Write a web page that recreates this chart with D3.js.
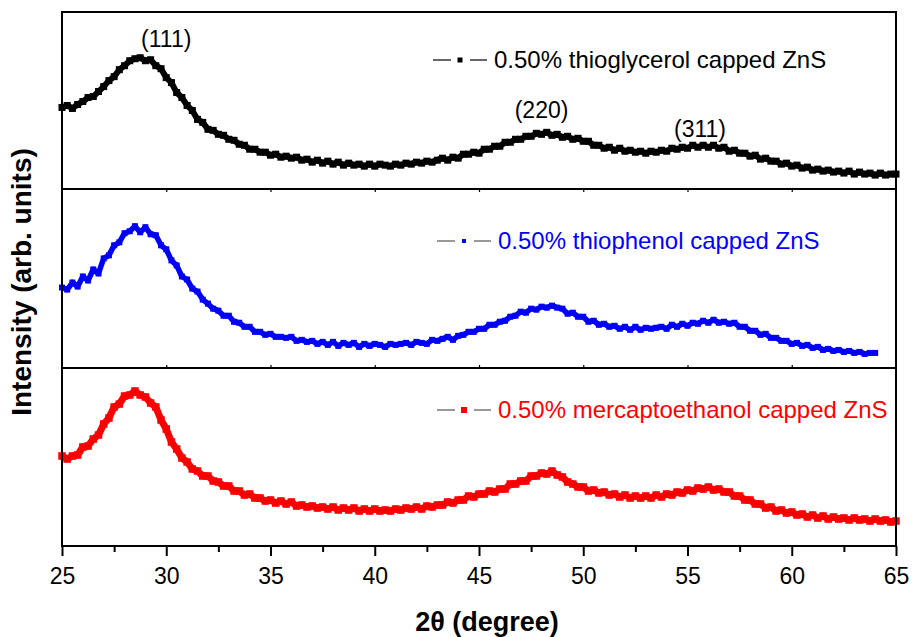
<!DOCTYPE html>
<html>
<head>
<meta charset="utf-8">
<script src="https://cdn.jsdelivr.net/npm/d3@7"></script>
<style>
  body { margin: 0; background: #fff; }
  text { font-family: Arial, "Liberation Sans", sans-serif; fill: #000; }
</style>
</head>
<body>
<div id="chart"></div>
<script>
// XRD scans, 2theta from 25 deg in 0.25 deg steps, arb. units
var scanStart = 25, scanStep = 0.25;

var thioglycerol = [
  82, 84, 81, 85,  88, 92, 93, 98,  103, 109, 113, 120,  124, 129, 131, 132,
  129, 130, 124, 121,  112, 107, 97, 92,  84, 79, 70, 67,  60, 59, 55, 54,
  50, 49, 45, 44,  40, 40, 37, 37,  34, 35, 32, 33,  31, 32, 29, 30,
  27, 29, 26, 28,  25, 27, 24, 26,  24, 25, 23, 25,  23, 25, 24, 23,
  25, 24, 26, 25,  27, 26, 28, 27,  29, 31, 29, 32,  31, 35, 35, 37,
  36, 40, 40, 43,  43, 47, 47, 50,  50, 53, 53, 56,  55, 57, 54, 55,
  52, 53, 50, 51,  48, 48, 44, 44,  41, 42, 39, 41,  38, 39, 37, 38,
  36, 38, 37, 39,  38, 41, 40, 42,  41, 44, 42, 44,  42, 44, 41, 42,
  38, 39, 36, 36,  33, 34, 30, 31,  28, 28, 25, 26,  23, 24, 21, 22,
  19, 20, 18, 19,  17, 18, 16, 18,  15, 17, 15, 16,  14, 16, 14, 15,  15
];

var thiophenol = [
  80, 78, 85, 81,  91, 87, 98, 94,  109, 112, 122, 125,  134, 136, 141, 135,
  140, 133, 132, 122,  118, 107, 102, 91,  88, 79, 76, 68,  64, 59, 57, 52,
  52, 46, 45, 41,  41, 36, 36, 33,  34, 31, 31, 30,  31, 27, 28, 26,
  27, 24, 26, 23,  26, 22, 25, 23,  25, 21, 24, 22,  24, 23, 21, 24,
  23, 24, 25, 23,  26, 25, 24, 28,  27, 29, 31, 28,  32, 33, 36, 36,
  39, 39, 43, 43,  46, 47, 51, 52,  56, 55, 59, 58,  61, 60, 62, 60,
  59, 54, 55, 51,  51, 46, 47, 43,  44, 41, 42, 39,  41, 38, 41, 38,
  40, 39, 40, 41,  39, 43, 41, 44,  42, 45, 44, 47,  45, 48, 45, 46,
  44, 45, 41, 41,  37, 37, 33, 34,  30, 30, 27, 27,  24, 25, 22, 23,
  20, 21, 18, 19,  17, 18, 16, 17,  15, 16, 14, 15,  15
];

var mercaptoethanol = [
  90, 87, 90, 91,  99, 100, 107, 111,  122, 128, 139, 142,  150, 151, 155, 151,
  149, 143, 139, 126,  117, 104, 97, 88,  84, 77, 75, 70,  70, 65, 64, 60,
  60, 55, 55, 51,  52, 48, 48, 45,  46, 43, 45, 42,  44, 40, 41, 39,
  40, 38, 39, 37,  39, 36, 38, 36,  38, 35, 37, 35,  37, 35, 36, 35,
  37, 36, 38, 37,  39, 37, 40, 39,  41, 41, 44, 43,  46, 46, 50, 49,
  52, 52, 55, 54,  57, 57, 62, 62,  65, 65, 70, 70,  73, 72, 75, 71,
  69, 64, 62, 59,  59, 55, 56, 53,  54, 51, 52, 49,  51, 48, 50, 48,
  50, 48, 51, 49,  52, 51, 54, 53,  56, 55, 58, 57,  59, 56, 57, 54,
  54, 50, 50, 46,  46, 42, 42, 38,  39, 35, 36, 33,  34, 31, 32, 29,
  31, 28, 30, 27,  29, 27, 28, 26,  28, 26, 27, 25,  27, 25, 26, 24,  25
];

var seriesNames = ["0.50% thioglycerol capped ZnS", "0.50% thiophenol capped ZnS", "0.50% mercaptoethanol capped ZnS"];
var seriesColors = ["#000000", "#0000ff", "#ff0000"];
var peakLabels = ["(111)", "(220)", "(311)"];
var peakAngles = [30.0, 48.0, 55.6];
var majorTicks = [25, 30, 35, 40, 45, 50, 55, 60, 65];
var minorTicks = [27.5, 32.5, 37.5, 42.5, 47.5, 52.5, 57.5, 62.5];

var width = 912, height = 637;
var plotLeft = 62, plotRight = 896, plotTop = 12, plotBottom = 546;
var panelEdges = [12, 189, 368, 546];

var svg = d3.select("#chart").append("svg")
    .attr("width", width)
    .attr("height", height)
    .style("background", "#fff");

var x = d3.scaleLinear().domain([25, 65]).range([plotLeft, plotRight]);

function toPoints(arr) {
    return arr.map(function(v, i) { return { x: scanStart + i * scanStep, y: v }; });
}

var allSeries = [thioglycerol, thiophenol, mercaptoethanol];
var markSize = [7, 6, 7.5];
var bandWidth = [6, 5.5, 7];   // thick pass of the trace in its own colour
var legMark = [5, 4, 6];

allSeries.forEach(function(arr, k) {
    var y = d3.scaleLinear().domain([0, 178]).range([panelEdges[k + 1], panelEdges[k]]);
    var pts = toPoints(arr);
    var g = svg.append("g").attr("class", "series");
    var line = d3.line()
        .x(function(d) { return x(d.x); })
        .y(function(d) { return y(d.y); });

    g.append("path")
        .datum(pts)
        .attr("fill", "none")
        .attr("stroke", seriesColors[k])
        .attr("stroke-width", bandWidth[k])
        .attr("stroke-linejoin", "round")
        .attr("d", line);

    g.selectAll("rect")
        .data(pts)
        .enter().append("rect")
        .attr("x", function(d) { return x(d.x) - markSize[k] / 2; })
        .attr("y", function(d) { return y(d.y) - markSize[k] / 2; })
        .attr("width", markSize[k])
        .attr("height", markSize[k])
        .attr("fill", seriesColors[k]);

    // thin black connecting line like the original plot
    g.append("path")
        .datum(pts)
        .attr("fill", "none")
        .attr("stroke", "#000")
        .attr("stroke-opacity", k == 0 ? 1 : 0.2)
        .attr("stroke-width", 0.6)
        .attr("d", line);

    // legend
    var ly = [60, 241, 410][k];
    var lx = [433, 437, 437][k];
    var dashCol = k == 0 ? "#000" : "#555";
    var leg = svg.append("g").attr("class", "legend");
    leg.append("line").attr("x1", lx).attr("x2", lx + 18).attr("y1", ly).attr("y2", ly)
        .attr("stroke", dashCol).attr("stroke-width", 1.2);
    leg.append("line").attr("x1", lx + 37).attr("x2", lx + 54).attr("y1", ly).attr("y2", ly)
        .attr("stroke", dashCol).attr("stroke-width", 1.2);
    leg.append("rect")
        .attr("x", lx + 27 - legMark[k] / 2)
        .attr("y", ly - legMark[k] / 2)
        .attr("width", legMark[k])
        .attr("height", legMark[k])
        .attr("fill", seriesColors[k]);
    leg.append("text")
        .attr("x", lx + 61)
        .attr("y", ly + 8)
        .style("font-size", "24px")
        .style("fill", seriesColors[k])
        .text(seriesNames[k]);
});

// peak labels (top panel)
var peakY = [47, 118, 137];
peakLabels.forEach(function(lab, i) {
    svg.append("text")
        .attr("x", x(peakAngles[i]))
        .attr("y", peakY[i])
        .attr("text-anchor", "middle")
        .style("font-size", "23px")
        .text(lab);
});

// frame and panel dividers
svg.append("rect")
    .attr("x", plotLeft).attr("y", plotTop)
    .attr("width", plotRight - plotLeft).attr("height", plotBottom - plotTop)
    .attr("fill", "none").attr("stroke", "#000").attr("stroke-width", 2);

[189, 368].forEach(function(py) {
    svg.append("line").attr("x1", plotLeft).attr("x2", plotRight).attr("y1", py).attr("y2", py)
        .attr("stroke", "#000").attr("stroke-width", 2);
});

// small inner ticks of the middle panel
var innerTop = svg.append("g").attr("transform", "translate(0,189)")
    .call(d3.axisBottom(x).tickValues(majorTicks.slice(1, -1)).tickSize(3).tickFormat(""));
var innerBot = svg.append("g").attr("transform", "translate(0,368)")
    .call(d3.axisTop(x).tickValues(majorTicks.slice(1, -1)).tickSize(3).tickFormat(""));
[innerTop, innerBot].forEach(function(a) {
    a.select(".domain").remove();
    a.selectAll("line").attr("stroke-width", 1.2);
});

// bottom axis
var axMinor = svg.append("g").attr("transform", "translate(0," + plotBottom + ")")
    .call(d3.axisBottom(x).tickValues(minorTicks).tickSize(6).tickFormat(""));
axMinor.select(".domain").remove();
axMinor.selectAll("line").attr("stroke-width", 2);

var axMajor = svg.append("g").attr("transform", "translate(0," + plotBottom + ")")
    .call(d3.axisBottom(x).tickValues(majorTicks).tickSize(10).tickSizeOuter(0));
axMajor.select(".domain").remove();
axMajor.selectAll("line").attr("stroke-width", 2);
axMajor.selectAll("text")
    .attr("y", 22)
    .attr("dy", "0.71em")
    .style("font-size", "23px")
    .style("font-family", "Arial, 'Liberation Sans', sans-serif");

// axis titles
svg.append("text")
    .attr("x", (plotLeft + plotRight) / 2 + 8)
    .attr("y", 631)
    .attr("text-anchor", "middle")
    .style("font-size", "27px")
    .style("font-weight", "bold")
    .text("2θ (degree)");

svg.append("text")
    .attr("transform", "translate(31," + 282 + ") rotate(-90)")
    .attr("text-anchor", "middle")
    .style("font-size", "28px")
    .style("font-weight", "bold")
    .text("Intensity (arb. units)");
</script>
</body>
</html>
